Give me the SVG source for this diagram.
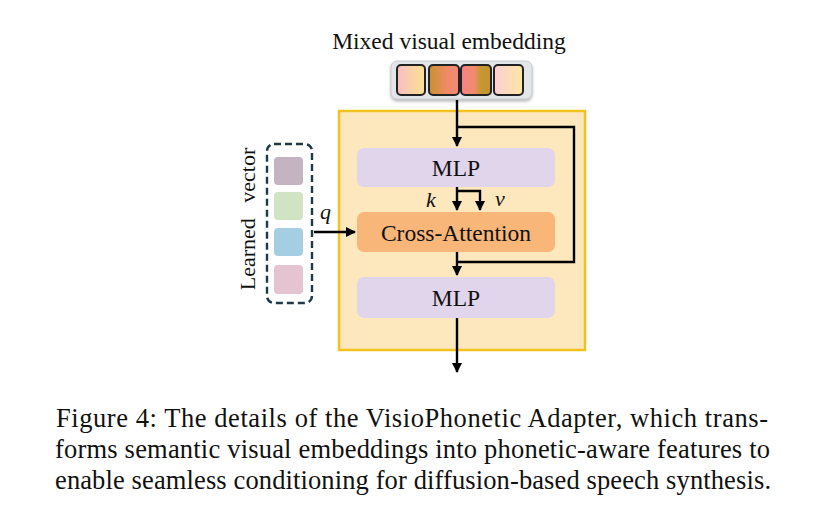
<svg xmlns="http://www.w3.org/2000/svg" width="826" height="525" viewBox="0 0 826 525">
<style>
text{font-family:'Liberation Serif','Times New Roman',Times,serif;fill:#111;}
.lbl{font-size:23.5px;text-anchor:middle;}
.it{font-style:italic;font-size:22px;}
.cap{font-size:26.5px;}
.wire{fill:none;stroke:#000;stroke-width:2.4;}
.sq{stroke:#222;stroke-width:2;}
</style>
<defs>
<marker id="ah" viewBox="0 0 10 10" refX="9" refY="5" markerWidth="4.2" markerHeight="4.2" orient="auto" markerUnits="strokeWidth">
<path d="M0,0 L10,5 L0,10 z" fill="#000"/>
</marker>
<linearGradient id="g1" x1="0" x2="1" y1="0" y2="0"><stop offset="0" stop-color="#F8BDC4"/><stop offset="1" stop-color="#FCE28E"/></linearGradient>
<linearGradient id="g2" x1="0" x2="1" y1="0" y2="0"><stop offset="0" stop-color="#C4932E"/><stop offset="0.6" stop-color="#F08A66"/><stop offset="1" stop-color="#F5877A"/></linearGradient>
<linearGradient id="g3" x1="0" x2="1" y1="0" y2="0"><stop offset="0" stop-color="#F68283"/><stop offset="0.45" stop-color="#F08A70"/><stop offset="0.65" stop-color="#C8972E"/><stop offset="1" stop-color="#C09530"/></linearGradient>
<linearGradient id="g4" x1="0" x2="1" y1="0" y2="0"><stop offset="0" stop-color="#FBCFD3"/><stop offset="1" stop-color="#FDE7A2"/></linearGradient>
<filter id="sh" x="-10%" y="-20%" width="120%" height="150%"><feDropShadow dx="0" dy="2" stdDeviation="1.5" flood-color="#888" flood-opacity="0.6"/></filter>
</defs>

<text class="lbl" x="449" y="49">Mixed visual embedding</text>

<g id="embedding">
<rect x="391" y="61" width="141" height="38" rx="6" fill="#E3E5E8" stroke="#C8CCD0" stroke-width="1" filter="url(#sh)"/>
<rect class="sq" x="397" y="65" width="28" height="30" rx="4" fill="url(#g1)"/>
<rect class="sq" x="429" y="65" width="30" height="30" rx="4" fill="url(#g2)"/>
<rect class="sq" x="461" y="65" width="30" height="30" rx="4" fill="url(#g3)"/>
<rect class="sq" x="494" y="65" width="29" height="30" rx="4" fill="url(#g4)"/>
</g>

<g id="adapter">
<rect x="339" y="111" width="246" height="239" fill="#FDE8BE" stroke="#F4C21F" stroke-width="2.5"/>
</g>

<g id="mlp1">
<rect x="357" y="148" width="198" height="39" rx="7" fill="#E1D5EC"/>
<text class="lbl" x="456" y="176">MLP</text>
</g>

<g id="cross-attention">
<rect x="357" y="212" width="198" height="40" rx="7" fill="#F9B679"/>
<text class="lbl" x="456" y="241">Cross-Attention</text>
</g>

<g id="mlp2">
<rect x="357" y="277" width="198" height="41" rx="7" fill="#E1D5EC"/>
<text class="lbl" x="456" y="306">MLP</text>
</g>

<g id="learned-vector">
<rect x="267" y="144" width="45" height="159" rx="7" fill="none" stroke="#1E3A48" stroke-width="2.4" stroke-dasharray="7,4"/>
<rect x="274" y="157" width="29" height="28" rx="4" fill="#C4B3C1"/>
<rect x="274" y="192" width="29" height="28" rx="4" fill="#D0E3C3"/>
<rect x="274" y="228" width="29" height="28" rx="4" fill="#A4CFE3"/>
<rect x="274" y="265" width="29" height="29" rx="4" fill="#E3C4D0"/>
<text font-size="22" text-anchor="middle" word-spacing="10" transform="translate(255,219) rotate(-90)">Learned vector</text>
</g>

<g id="connectors">
<path class="wire" d="M457,100 V146" marker-end="url(#ah)"/>
<path class="wire" d="M457,127 H574 V262 H457"/>
<path class="wire" d="M457,252 V275" marker-end="url(#ah)"/>
<path class="wire" d="M457,187 V210" marker-end="url(#ah)"/>
<path class="wire" d="M457,191 H480 V210" marker-end="url(#ah)"/>
<path class="wire" d="M314,232 H355" marker-end="url(#ah)"/>
<path class="wire" d="M457,318 V372" marker-end="url(#ah)"/>
<text class="it" x="426" y="207">k</text>
<text class="it" x="495" y="206">v</text>
<text class="it" x="320" y="219">q</text>
</g>

<g id="caption">
<text class="cap" x="56" y="427" textLength="712" lengthAdjust="spacing">Figure 4: The details of the VisioPhonetic Adapter, which trans-</text>
<text class="cap" x="55" y="458" textLength="715" lengthAdjust="spacing">forms semantic visual embeddings into phonetic-aware features to</text>
<text class="cap" x="55" y="489" textLength="716" lengthAdjust="spacing">enable seamless conditioning for diffusion-based speech synthesis.</text>
</g>
</svg>
